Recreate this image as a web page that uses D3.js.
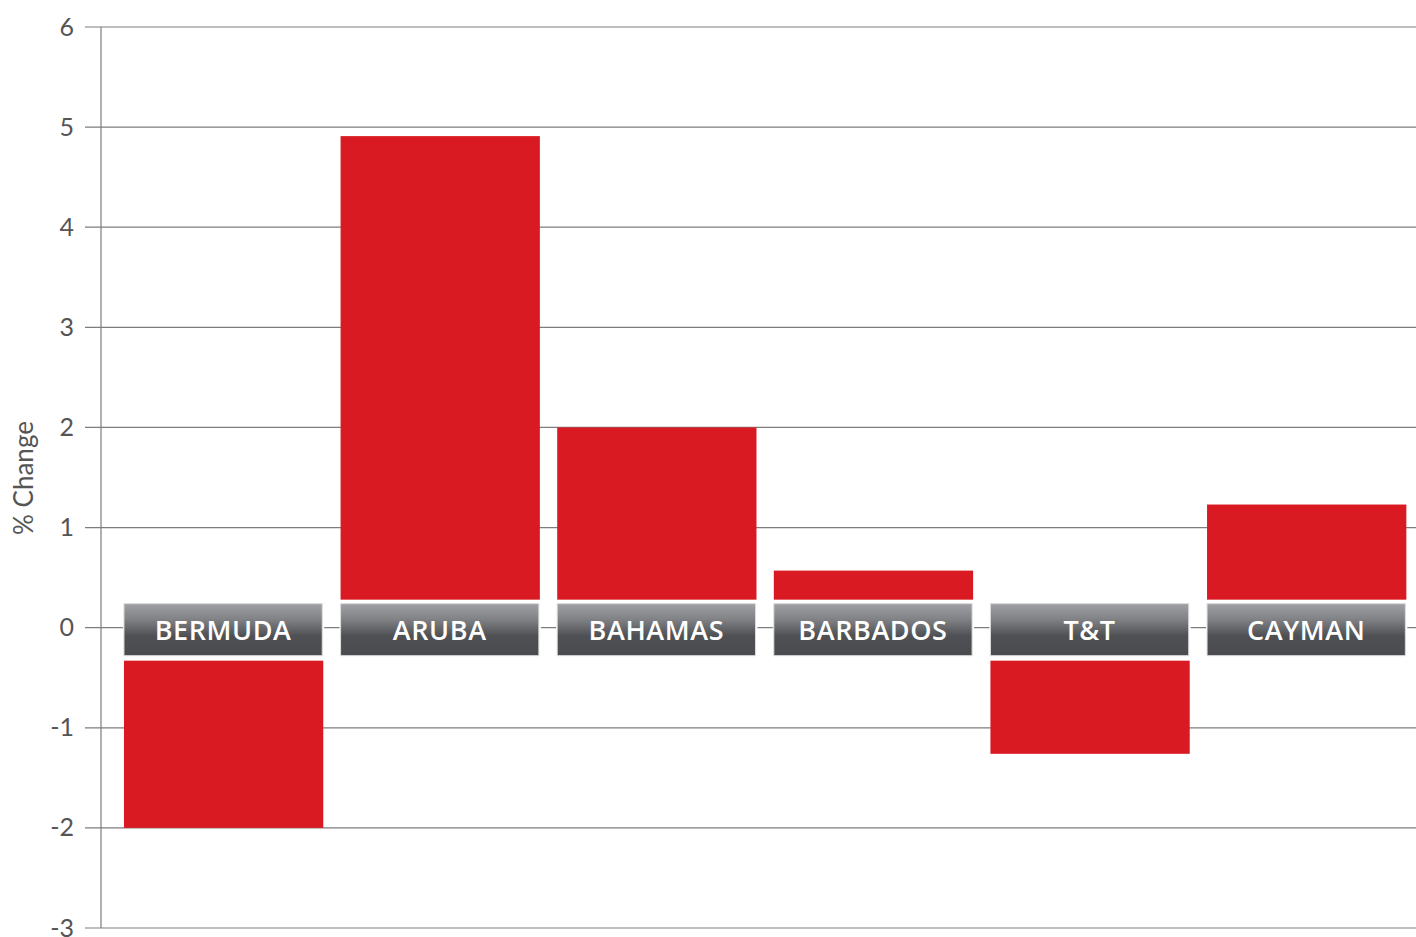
<!DOCTYPE html>
<html>
<head>
<meta charset="utf-8">
<script src="https://cdn.jsdelivr.net/npm/d3@7"></script>
<style>
  body { margin: 0; background: #fff; }
  svg { display: block; }
</style>
</head>
<body>
<svg></svg>
<script>
// data
var countries = ["BERMUDA", "ARUBA", "BAHAMAS", "BARBADOS", "T&T", "CAYMAN"];
var pctChange = [-2.0, 4.91, 2.0, 0.57, -1.26, 1.23];
var yTicks = [-3, -2, -1, 0, 1, 2, 3, 4, 5, 6];

var width = 1416,
    height = 937;

var svg = d3.select("svg")
    .attr("width", width)
    .attr("height", height);

var y = d3.scaleLinear().domain([-3, 6]).range([928, 27]);
var x = d3.scaleBand()
    .domain(countries)
    .range([115.3, 1415])
    .paddingInner(0.08)
    .paddingOuter(0.04);

var axisX = 101;
var zero = y(0);

var defs = svg.append("defs");
var grad = defs.append("linearGradient")
    .attr("id", "labelGrad")
    .attr("x1", 0).attr("x2", 0).attr("y1", 0).attr("y2", 1);
grad.append("stop").attr("offset", "0%").attr("stop-color", "#a0a1a5");
grad.append("stop").attr("offset", "30%").attr("stop-color", "#818286");
grad.append("stop").attr("offset", "62%").attr("stop-color", "#4f5053");
grad.append("stop").attr("offset", "100%").attr("stop-color", "#4a4b4e");

// gridlines + tick marks
svg.append("g")
    .selectAll("line")
    .data(yTicks)
    .enter()
    .append("line")
    .attr("x1", 85)
    .attr("x2", width)
    .attr("y1", d => y(d))
    .attr("y2", d => y(d))
    .attr("stroke", "#7d7d7d")
    .attr("stroke-width", 1.2);

// tick labels
svg.append("g")
    .selectAll("text")
    .data(yTicks)
    .enter()
    .append("text")
    .attr("x", 74)
    .attr("y", d => y(d))
    .attr("dy", "0.34em")
    .attr("text-anchor", "end")
    .attr("font-family", "Lato, 'Open Sans', sans-serif")
    .attr("font-size", 25)
    .attr("fill", "#555")
    .text(d => d);

// y axis line
svg.append("line")
    .attr("x1", axisX).attr("x2", axisX)
    .attr("y1", y(6)).attr("y2", y(-3))
    .attr("stroke", "#7d7d7d")
    .attr("stroke-width", 1.2);

// axis title
svg.append("text")
    .attr("transform", "translate(33,478) rotate(-90)")
    .attr("text-anchor", "middle")
    .attr("font-family", "Lato, 'Open Sans', sans-serif")
    .attr("font-size", 26)
    .attr("fill", "#555")
    .text("% Change");

// bars
svg.append("g")
    .selectAll("rect")
    .data(countries)
    .enter()
    .append("rect")
    .attr("x", d => x(d))
    .attr("width", x.bandwidth())
    .attr("y", (d, i) => y(Math.max(0, pctChange[i])))
    .attr("height", (d, i) => Math.abs(y(pctChange[i]) - y(0)))
    .attr("fill", "#da1a22");

// white gap around label bands
svg.append("g")
    .selectAll("rect")
    .data(countries)
    .enter()
    .append("rect")
    .attr("x", d => x(d) - 1)
    .attr("width", x.bandwidth() + 2)
    .attr("y", zero - 28)
    .attr("height", 61)
    .attr("fill", "#fff");

// label boxes
var labels = svg.append("g")
    .selectAll("g")
    .data(countries)
    .enter()
    .append("g")
    .attr("transform", d => "translate(" + x(d) + "," + (zero - 24) + ")");

labels.append("rect")
    .attr("width", x.bandwidth() - 1)
    .attr("height", 52)
    .attr("fill", "url(#labelGrad)")
    .attr("stroke", "#dcdcdc")
    .attr("stroke-width", 1);

labels.append("text")
    .attr("x", (x.bandwidth() - 1) / 2)
    .attr("y", 27)
    .attr("dy", "0.36em")
    .attr("text-anchor", "middle")
    .attr("font-family", "'Open Sans', Lato, sans-serif")
    .attr("font-weight", 600)
    .attr("font-size", 27)
    .attr("letter-spacing", 0.6)
    .attr("fill", "#fff")
    .text(d => d);
</script>
</body>
</html>
